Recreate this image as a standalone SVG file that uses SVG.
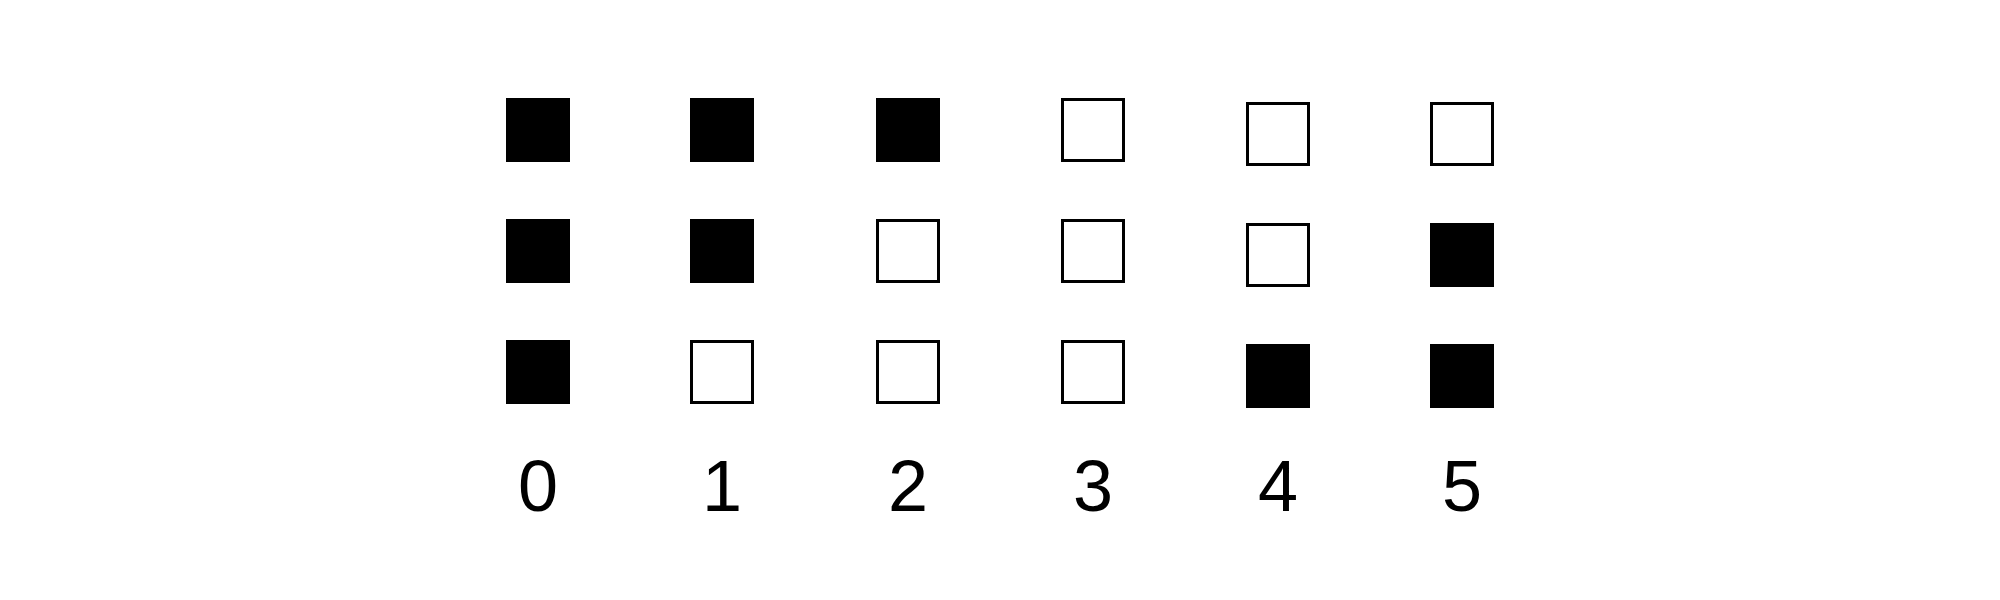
<svg xmlns="http://www.w3.org/2000/svg" width="2000" height="600" viewBox="0 0 2000 600">
<style>
.on{fill:#000;stroke:none}
.off{fill:#fff;stroke:#000;stroke-width:3}
.lbl{font-family:"Liberation Sans",Arial,sans-serif;font-size:72px;fill:#000;text-anchor:middle}
</style>
<rect width="2000" height="600" fill="#fff"/>
<g id="col0">
<rect class="on" x="506" y="98" width="64" height="64"/>
<rect class="on" x="506" y="219" width="64" height="64"/>
<rect class="on" x="506" y="340" width="64" height="64"/>
<text class="lbl" x="538" y="511">0</text>
</g>
<g id="col1">
<rect class="on" x="690" y="98" width="64" height="64"/>
<rect class="on" x="690" y="219" width="64" height="64"/>
<rect class="off" x="691.5" y="341.5" width="61" height="61"/>
<text class="lbl" x="722" y="511">1</text>
</g>
<g id="col2">
<rect class="on" x="876" y="98" width="64" height="64"/>
<rect class="off" x="877.5" y="220.5" width="61" height="61"/>
<rect class="off" x="877.5" y="341.5" width="61" height="61"/>
<text class="lbl" x="908" y="511">2</text>
</g>
<g id="col3">
<rect class="off" x="1062.5" y="99.5" width="61" height="61"/>
<rect class="off" x="1062.5" y="220.5" width="61" height="61"/>
<rect class="off" x="1062.5" y="341.5" width="61" height="61"/>
<text class="lbl" x="1093" y="511">3</text>
</g>
<g id="col4">
<rect class="off" x="1247.5" y="103.5" width="61" height="61"/>
<rect class="off" x="1247.5" y="224.5" width="61" height="61"/>
<rect class="on" x="1246" y="344" width="64" height="64"/>
<text class="lbl" x="1278" y="511">4</text>
</g>
<g id="col5">
<rect class="off" x="1431.5" y="103.5" width="61" height="61"/>
<rect class="on" x="1430" y="223" width="64" height="64"/>
<rect class="on" x="1430" y="344" width="64" height="64"/>
<text class="lbl" x="1462" y="511">5</text>
</g>
<g id="connectors"/>
</svg>
